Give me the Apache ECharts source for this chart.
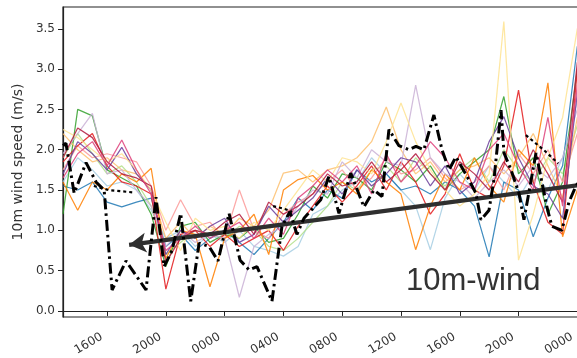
<!DOCTYPE html>
<html>
<head>
<meta charset="utf-8">
<script src="https://cdn.jsdelivr.net/npm/echarts@6/dist/echarts.min.js"></script>
<style>
  html, body { margin: 0; padding: 0; background: #fff; }
  #chart { width: 577px; height: 358px; }
</style>
</head>
<body>
<div id="chart"></div>
<script>
// hours since 00:00 of the first day
const hours = [13, 14, 15, 16, 17, 18, 19, 20, 21, 22, 23, 24, 25, 26, 27, 28, 29, 30, 31,
  32, 33, 34, 35, 36, 37, 38, 39, 40, 41, 42, 43, 44, 45, 46, 47, 48, 49];
const tickHours = [16, 20, 24, 28, 32, 36, 40, 44, 48];
const yTicks = [0, 0.5, 1.0, 1.5, 2.0, 2.5, 3.0, 3.5];

// ensemble members, 10m wind (m/s), one value per hour
const lightBlue = [1.6, 1.9, 1.75, 1.55, 1.6, 1.5, 1.25, 0.9, 1.0, 0.8, 0.95, 0.85, 1.0, 0.8, 0.75, 0.68, 0.8, 1.2, 1.3, 1.5, 1.6, 1.9, 1.7, 1.5, 1.3, 0.76, 1.4, 1.7, 1.5, 1.8, 1.6, 1.4, 1.7, 1.5, 1.9, 2.6, 2.9];
const blue = [1.55, 1.5, 1.6, 1.35, 1.29, 1.35, 1.4, 0.8, 0.95, 0.75, 0.9, 1.0, 0.85, 0.7, 0.9, 1.1, 1.4, 1.25, 1.5, 1.4, 1.75, 1.6, 1.7, 1.5, 1.55, 1.45, 1.6, 1.5, 1.3, 0.67, 1.6, 1.5, 0.92, 1.4, 1.8, 3.28, 3.4];
const lightGreen = [1.9, 2.2, 1.95, 1.7, 1.8, 1.6, 1.3, 0.7, 0.85, 1.0, 0.95, 0.9, 1.05, 1.0, 0.8, 0.75, 0.9, 1.1, 1.3, 1.6, 1.5, 1.75, 1.8, 1.6, 1.9, 1.7, 1.55, 1.75, 1.9, 1.6, 2.0, 1.75, 1.6, 1.9, 1.7, 2.3, 2.6];
const green = [1.2, 2.5, 2.42, 1.75, 1.65, 1.55, 1.2, 0.55, 1.05, 1.1, 0.85, 0.95, 0.9, 1.05, 0.85, 0.9, 1.2, 1.55, 1.4, 1.7, 1.65, 1.5, 1.85, 1.75, 1.6, 1.8, 1.5, 1.7, 1.85, 2.0, 2.66, 1.7, 1.9, 1.2, 1.6, 3.0, 3.2];
const pink = [1.75, 2.05, 1.9, 1.95, 1.9, 1.85, 1.55, 1.0, 1.38, 1.05, 1.1, 0.9, 1.5, 1.0, 0.9, 1.2, 1.35, 1.45, 1.6, 1.75, 1.5, 1.65, 1.9, 1.7, 1.75, 1.9, 1.65, 1.5, 1.6, 1.8, 1.5, 1.95, 1.7, 2.0, 1.6, 2.2, 2.5];
const red = [1.85, 2.05, 2.2, 1.8, 1.6, 1.55, 1.45, 0.27, 0.95, 1.0, 0.8, 0.95, 0.8, 0.9, 1.0, 0.75, 1.05, 1.3, 1.55, 1.35, 1.55, 1.8, 1.5, 1.85, 1.6, 1.2, 1.45, 1.95, 1.5, 1.4, 1.8, 2.74, 1.6, 1.1, 0.95, 2.99, 3.1];
const lightOrange = [2.2, 2.0, 1.85, 1.9, 1.75, 1.7, 1.5, 0.9, 1.1, 0.9, 1.05, 0.95, 1.15, 1.05, 1.25, 1.71, 1.75, 1.6, 1.75, 1.8, 1.9, 2.1, 2.53, 2.0, 1.7, 1.85, 1.6, 1.75, 1.8, 1.9, 1.7, 1.9, 2.2, 1.8, 1.4, 2.4, 2.7];
const orange = [1.6, 1.25, 1.6, 1.5, 1.7, 1.6, 1.77, 0.65, 1.0, 0.95, 0.3, 0.9, 1.0, 1.2, 0.7, 1.5, 1.63, 1.68, 1.5, 1.6, 1.45, 1.75, 1.6, 1.45, 0.76, 1.3, 1.7, 1.5, 1.9, 1.55, 1.35, 2.0, 1.8, 2.83, 0.92, 1.5, 2.0];
const lightPurple = [1.95, 2.2, 2.45, 1.7, 1.75, 1.5, 1.3, 0.8, 1.0, 0.85, 0.95, 0.9, 0.17, 0.8, 0.95, 1.05, 1.3, 1.5, 1.45, 1.85, 1.65, 2.0, 1.85, 1.8, 2.8, 1.9, 1.7, 1.6, 1.4, 1.6, 1.75, 1.55, 1.8, 1.65, 1.9, 2.5, 2.8];
const purple = [1.7, 2.1, 1.95, 1.75, 2.03, 1.7, 1.5, 0.7, 1.0, 0.9, 1.05, 1.15, 0.85, 0.95, 1.3, 1.1, 1.25, 1.4, 1.65, 1.45, 1.75, 1.55, 1.7, 1.9, 1.85, 1.55, 1.8, 1.45, 1.6, 2.1, 2.41, 1.9, 1.55, 1.45, 1.15, 2.7, 3.0];
const yellow = [2.25, 2.15, 2.0, 1.85, 1.95, 1.75, 1.5, 1.1, 0.75, 1.15, 1.0, 1.05, 0.9, 1.1, 1.0, 1.25, 1.5, 1.75, 1.6, 1.9, 1.85, 1.7, 2.1, 2.58, 2.1, 1.75, 1.5, 1.3, 1.45, 1.7, 3.59, 0.63, 1.2, 1.9, 2.4, 3.5, 3.7];
const maroon = [1.9, 2.27, 2.15, 1.85, 1.7, 1.65, 1.55, 0.6, 0.9, 1.0, 0.95, 1.1, 1.2, 0.95, 1.35, 1.2, 1.3, 1.45, 1.7, 1.55, 1.6, 1.85, 1.6, 1.75, 1.95, 1.7, 1.5, 1.85, 1.7, 1.5, 1.85, 1.6, 2.0, 1.7, 1.35, 3.08, 3.3];
const magenta = [1.65, 1.95, 2.1, 1.8, 2.12, 1.75, 1.45, 0.75, 0.9, 1.05, 0.9, 1.0, 1.1, 0.9, 1.15, 0.95, 1.4, 1.55, 1.75, 1.6, 1.8, 1.45, 1.95, 1.6, 1.8, 2.1, 1.9, 1.6, 1.5, 2.0, 2.2, 1.8, 1.5, 2.4, 1.3, 2.8, 3.0];

const members = [
  ['#a6cee3', lightBlue], ['#1f78b4', blue], ['#b2df8a', lightGreen], ['#33a02c', green],
  ['#fb9a99', pink], ['#e31a1c', red], ['#fdbf6f', lightOrange], ['#ff7f00', orange],
  ['#cab2d6', lightPurple], ['#6a3d9a', purple], ['#fee391', yellow], ['#b2183c', maroon],
  ['#de3f7a', magenta]
];

// observations (irregular times)
const obsHours = [13.0, 13.2, 13.76, 14.57, 15.25, 15.8, 16.34, 17.29, 18.65, 19.33, 19.88, 20.42, 21.01, 21.69, 22.26, 22.94, 23.55, 24.3, 25.05, 25.66, 26.2, 27.22, 27.9, 28.44, 28.92, 29.4, 30.54, 31.1, 31.78, 32.58, 33.48, 34.16, 34.71, 35.18, 35.86, 36.54, 37.02, 37.56, 38.24, 38.79, 39.27, 39.74, 40.49, 41.1, 41.44, 41.99, 42.33, 42.81, 43.01, 43.49, 44.03, 44.37, 45.19, 45.93, 46.27, 46.95, 47.43, 47.91, 48.8];
const obsWind = [2.05, 2.08, 1.46, 1.84, 1.6, 1.5, 0.26, 0.62, 0.26, 1.41, 0.55, 0.75, 1.21, 0.12, 0.84, 0.8, 0.62, 1.21, 0.63, 0.51, 0.55, 0.12, 1.05, 1.23, 0.95, 1.15, 1.38, 1.67, 1.21, 1.71, 1.29, 1.5, 1.42, 2.25, 2.05, 2.0, 2.04, 2.0, 2.43, 2.0, 1.75, 1.91, 1.67, 1.46, 1.13, 1.25, 1.63, 2.49, 1.96, 1.75, 1.46, 1.13, 1.96, 1.29, 1.05, 1.0, 1.35, 1.55, 1.8];
// second, patchy observation record ('-' = missing)
const obs2Hours = [15.1, 16.1, 17.8, 18.5, 27.3, 28.0, 28.6, 29.0, 44.5, 45.7, 46.7];
const obs2Wind = [1.55, 1.5, 1.47, '-', 1.3, 1.27, 1.23, '-', 2.18, 2.0, 1.83];

// trend arrow end points [hour, m/s]
const arrowFrom = [48.95, 1.58];
const arrowTo = [17.5, 0.82];

const pad = (h) => String(h % 24).padStart(2, '0') + '00';
const zip = (xs, ys) => xs.map((x, i) => [x, ys[i]]);

const chart = echarts.init(document.getElementById('chart'), null, { renderer: 'canvas' });

const series = members.map(([color, vals]) => ({
  type: 'line',
  data: zip(hours, vals),
  showSymbol: false,
  symbol: 'none',
  silent: true,
  lineStyle: { color: color, width: 1.25, opacity: 0.85 },
  z: 2
}));

series.push({
  type: 'line',
  data: zip(obs2Hours, obs2Wind),
  showSymbol: false,
  symbol: 'none',
  silent: true,
  connectNulls: false,
  lineStyle: { color: '#000', width: 2.2, type: [3, 3] },
  z: 4
});

series.push({
  type: 'line',
  data: zip(obsHours, obsWind),
  showSymbol: false,
  symbol: 'none',
  silent: true,
  lineStyle: { color: '#000', width: 3, type: [11, 4, 2.5, 4] },
  z: 5
});

// trend arrow drawn as its own overlay series
series.push({
  type: 'line',
  data: [],
  silent: true,
  z: 6,
  markLine: {
    silent: true,
    animation: false,
    symbol: ['none', 'arrow'],
    symbolSize: [15, 17],
    label: { show: false },
    lineStyle: { color: '#2f2f2f', width: 4.2, type: 'solid', opacity: 1 },
    emphasis: { disabled: true },
    data: [[{ coord: arrowFrom }, { coord: arrowTo }]]
  }
});

chart.setOption({
  animation: false,
  backgroundColor: '#fff',
  textStyle: { fontFamily: 'DejaVu Sans' },
  grid: {
    left: 63, top: 7, height: 310, width: 529,
    outerBoundsMode: 'none',
    show: true, borderColor: '#222', borderWidth: 1.2, containLabel: false
  },
  xAxis: {
    type: 'value',
    min: 13, max: 49,
    splitLine: { show: false },
    axisLine: { show: true, lineStyle: { color: '#222', width: 1.2 } },
    axisTick: { show: true, customValues: tickHours, length: 5, lineStyle: { color: '#222' } },
    axisLabel: {
      customValues: tickHours,
      rotate: 30,
      margin: 16,
      padding: [0, 6, 0, 0],
      fontSize: 12,
      color: '#333',
      fontFamily: 'DejaVu Sans',
      formatter: (v) => pad(v)
    }
  },
  yAxis: {
    type: 'value',
    min: -0.075, max: 3.77,
    name: '10m wind speed (m/s)',
    nameLocation: 'middle',
    nameGap: 30,
    nameTextStyle: { fontSize: 14, color: '#333', fontFamily: 'DejaVu Sans' },
    splitLine: { show: false },
    axisLine: { show: true, lineStyle: { color: '#222', width: 1.2 } },
    axisTick: { show: true, customValues: yTicks, length: 5, lineStyle: { color: '#222' } },
    axisLabel: {
      customValues: yTicks,
      margin: 8,
      fontSize: 12,
      color: '#333',
      fontFamily: 'DejaVu Sans',
      formatter: (v) => v.toFixed(1)
    }
  },
  graphic: [{
    type: 'text',
    left: 406,
    top: 266,
    silent: true,
    style: {
      text: '10m-wind',
      fontSize: 31,
      fontFamily: 'Liberation Sans',
      fill: '#333'
    }
  }],
  series: series
});
</script>
</body>
</html>
